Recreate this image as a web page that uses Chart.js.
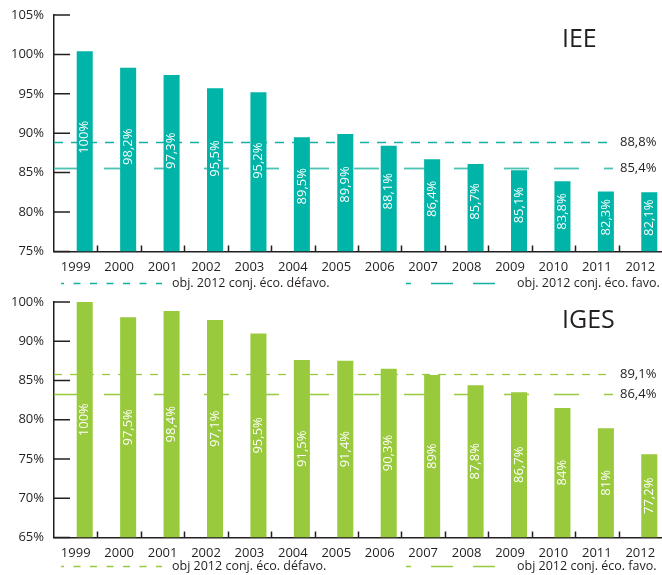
<!DOCTYPE html>
<html>
<head>
<meta charset="utf-8">
<script src="https://cdn.jsdelivr.net/npm/chart.js@4.4.1/dist/chart.umd.min.js"></script>
<style>
  html, body { margin: 0; padding: 0; background: #fff; }
  .box { position: relative; width: 662px; }
  #topBox { height: 292px; }
  #botBox { height: 283px; }
</style>
</head>
<body>
<div class="box" id="topBox"><canvas id="ieeChart"></canvas></div>
<div class="box" id="botBox"><canvas id="igesChart"></canvas></div>
<script>
// données
const years = ['1999', '2000', '2001', '2002', '2003', '2004', '2005', '2006', '2007', '2008', '2009', '2010', '2011', '2012'];

const ieeTicks = [75, 80, 85, 90, 95, 100, 105];
const ieeValues = [100.4, 98.3, 97.4, 95.7, 95.2, 89.5, 89.9, 88.4, 86.7, 86.1, 85.3, 83.9, 82.6, 82.5];
const ieeLabels = ['100%', '98,2%', '97,3%', '95,5%', '95,2%', '89,5%', '89,9%', '88,1%', '86,4%', '85,7%', '85,1%', '83,8%', '82,3%', '82,1%'];
const ieeObjValues = [88.9, 85.55];
const ieeObjTexts = ['88,8%', '85,4%'];

// l'axe IGES n'est pas régulier (100 / 90 / 85 ...)
const igesTicks = [65, 70, 75, 80, 85, 90, 100];
const igesValues = [100, 96.1, 97.7, 95.4, 92.0, 87.6, 87.5, 86.5, 85.7, 84.4, 83.5, 81.5, 78.9, 75.6];
const igesLabels = ['100%', '97,5%', '98,4%', '97,1%', '95,5%', '91,5%', '91,4%', '90,3%', '89%', '87,8%', '86,7%', '84%', '81%', '77,2%'];
const igesObjValues = [85.8, 83.25];
const igesObjTexts = ['89,1%', '86,4%'];

const legendTexts = ['obj. 2012 conj. éco. défavo.', 'obj. 2012 conj. éco. favo.'];
const legendTextsIges = ['obj 2012 conj. éco. défavo.', 'obj 2012 conj. éco. favo.'];

const FONT = '"Open Sans", "Noto Sans", sans-serif';
const INK = '#231f20';

// valeur -> position sur l'axe (index des graduations)
function toAxis(v, ticks) {
    let i = 0;
    while (i < ticks.length - 2 && v > ticks[i + 1]) i++;
    return i + (v - ticks[i]) / (ticks[i + 1] - ticks[i]);
}

// =================================================================
// plugin: lignes objectif, étiquettes, graduations, titre, légende
// =================================================================
const decorPlugin = {
    id: 'decor',
    beforeDatasetsDraw(chart, args, o) {
        const { ctx, chartArea, scales: { y } } = chart;
        o.lines.forEach((l, i) => {
            const py = Math.round(y.getPixelForValue(toAxis(o.objValues[i], o.ticks))) + 0.5;
            ctx.save();
            ctx.strokeStyle = l.color;
            ctx.lineWidth = l.width;
            ctx.setLineDash(l.dash);
            ctx.lineDashOffset = l.offset || 0;
            ctx.beginPath();
            ctx.moveTo(chartArea.left, py);
            ctx.lineTo(613, py);
            ctx.stroke();
            ctx.restore();

            ctx.save();
            ctx.fillStyle = INK;
            ctx.font = '13px ' + FONT;
            ctx.textBaseline = 'middle';
            ctx.fillText(o.objTexts[i], 620, py);
            ctx.restore();
        });
    },
    afterDatasetsDraw(chart, args, o) {
        const { ctx, chartArea, scales: { x, y } } = chart;

        // étiquettes verticales dans les barres
        const meta = chart.getDatasetMeta(1);
        ctx.save();
        ctx.fillStyle = '#ffffff';
        ctx.font = '13px ' + FONT;
        ctx.textAlign = 'center';
        ctx.textBaseline = 'middle';
        meta.data.forEach((bar, i) => {
            const cy = bar.base - o.labelFrac * (bar.base - bar.y);
            ctx.save();
            ctx.translate(bar.x, cy);
            ctx.rotate(-Math.PI / 2);
            ctx.fillText(o.labels[i], 0, 0);
            ctx.restore();
        });
        ctx.restore();

        // graduations vers l'intérieur
        ctx.save();
        ctx.strokeStyle = INK;
        ctx.lineWidth = 1.5;
        ctx.beginPath();
        y.ticks.forEach((t, i) => {
            const py = y.getPixelForTick(i);
            ctx.moveTo(chartArea.left, py);
            ctx.lineTo(chartArea.left + 16, py);
        });
        for (let i = 0; i < years.length - 1; i++) {
            const px = Math.round(x.getPixelForValue(i + 0.5)) + 0.5;
            ctx.moveTo(px, chartArea.bottom);
            ctx.lineTo(px, chartArea.bottom - 6);
        }
        ctx.stroke();
        ctx.restore();

        // titre
        ctx.save();
        ctx.fillStyle = INK;
        ctx.font = '25px ' + FONT;
        ctx.fillText(o.title, 562, o.titleY);
        ctx.restore();

        // légende
        const ly = Math.round(chart.height - 9) + 0.5;
        o.legend.forEach(item => {
            ctx.save();
            ctx.strokeStyle = item.color;
            ctx.lineWidth = item.width;
            ctx.setLineDash(item.dash);
            ctx.lineDashOffset = item.offset;
            ctx.beginPath();
            ctx.moveTo(item.x0, ly);
            ctx.lineTo(item.x1, ly);
            ctx.stroke();
            ctx.restore();
            ctx.save();
            ctx.fillStyle = INK;
            ctx.font = '12.5px ' + FONT;
            ctx.textBaseline = 'middle';
            ctx.fillText(item.text, item.tx, ly);
            ctx.restore();
        });
    }
};

function makeChart(canvasId, cfg) {
    const ticks = cfg.ticks;
    return new Chart(document.getElementById(canvasId), {
        type: 'bar',
        data: {
            labels: years,
            datasets: [{
                // colonne vide: décale la barre vers la droite de la catégorie
                data: [],
                backgroundColor: 'rgba(0,0,0,0)',
                categoryPercentage: 0.83,
                barPercentage: 0.89
            }, {
                data: cfg.values.map(v => toAxis(v, ticks)),
                backgroundColor: cfg.color,
                categoryPercentage: 0.83,
                barPercentage: 0.89
            }]
        },
        options: {
            responsive: true,
            maintainAspectRatio: false,
            animation: false,
            layout: { padding: { top: cfg.padTop, bottom: cfg.padBottom, left: 0, right: 0 } },
            scales: {
                x: {
                    grid: { display: false, drawTicks: true, tickLength: 8 },
                    border: { display: true, color: INK, width: 1.5 },
                    ticks: { color: INK, font: { family: FONT, size: 13 }, padding: 0, maxRotation: 0, autoSkip: false }
                },
                y: {
                    min: 0,
                    max: ticks.length - 1,
                    grid: { display: false, drawTicks: true, tickLength: 10 },
                    border: { display: true, color: INK, width: 1.5 },
                    ticks: {
                        stepSize: 1,
                        color: INK,
                        font: { family: FONT, size: 13 },
                        padding: 0,
                        callback: v => ticks[v] + '%'
                    },
                    afterFit: s => { s.width = 54; }
                }
            },
            plugins: {
                legend: { display: false },
                tooltip: { enabled: false },
                decor: {
                    ticks: ticks,
                    labels: cfg.labels,
                    labelFrac: cfg.labelFrac,
                    objValues: cfg.objValues,
                    objTexts: cfg.objTexts,
                    lines: cfg.lines,
                    title: cfg.title,
                    titleY: cfg.titleY,
                    legend: cfg.legend
                }
            }
        },
        plugins: [decorPlugin]
    });
}

const TEAL = '#00b5a7';
const GREEN = '#99c93c';

makeChart('ieeChart', {
    ticks: ieeTicks,
    values: ieeValues,
    labels: ieeLabels,
    objValues: ieeObjValues,
    objTexts: ieeObjTexts,
    color: TEAL,
    labelFrac: 0.57,
    padTop: 15,
    padBottom: 17,
    title: 'IEE',
    titleY: 47,
    lines: [
        { color: '#14b1a3', width: 1.3, dash: [9, 8], offset: 0 },
        { color: '#4cc3b5', width: 1.8, dash: [25, 25], offset: 0 }
    ],
    legend: [
        { x0: 61, x1: 162, color: '#14b1a3', width: 1.3, dash: [7, 9.5], offset: 4, text: legendTexts[0], tx: 172 },
        { x0: 406, x1: 505, color: '#14b1a3', width: 1.3, dash: [22, 20], offset: 17, text: legendTexts[1], tx: 517 }
    ]
});

makeChart('igesChart', {
    ticks: igesTicks,
    values: igesValues,
    labels: igesLabels,
    objValues: igesObjValues,
    objTexts: igesObjTexts,
    color: GREEN,
    labelFrac: 0.5,
    padTop: 10,
    padBottom: 14,
    title: 'IGES',
    titleY: 36,
    lines: [
        { color: GREEN, width: 1.3, dash: [8, 8], offset: 0 },
        { color: GREEN, width: 1.5, dash: [25, 25], offset: 0 }
    ],
    legend: [
        { x0: 61, x1: 162, color: GREEN, width: 1.3, dash: [7, 9.5], offset: 4, text: legendTextsIges[0], tx: 172 },
        { x0: 406, x1: 505, color: GREEN, width: 1.3, dash: [22, 20], offset: 17, text: legendTextsIges[1], tx: 517 }
    ]
});
</script>
</body>
</html>
